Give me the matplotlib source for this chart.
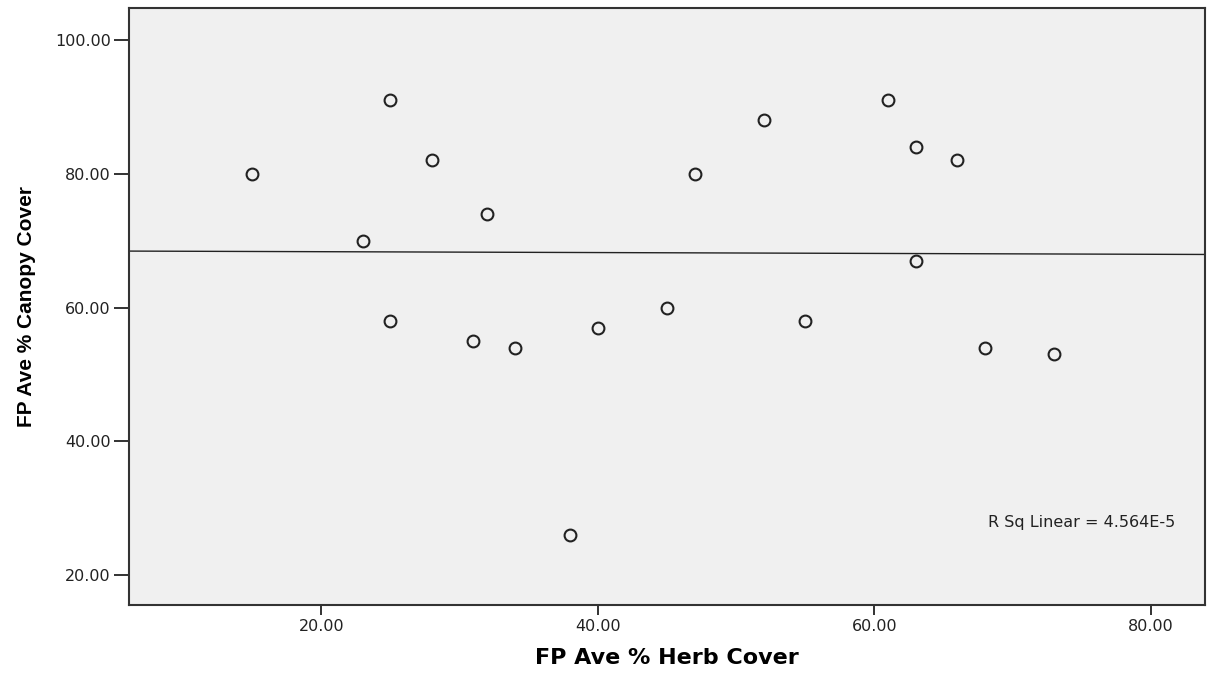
import numpy as np
import matplotlib
matplotlib.use("Agg")
import matplotlib.pyplot as plt

herb = [15, 23, 25, 25, 28, 31, 32, 34, 38, 40, 45, 47, 52, 55, 61, 63, 63, 66, 68, 73]
canopy = [80, 70, 91, 58, 82, 55, 74, 54, 26, 57, 60, 80, 88, 58, 91, 84, 67, 82, 54, 53]
xticks = [20, 40, 60, 80]
yticks = [20, 40, 60, 80, 100]

plt.rcParams['font.family'] = ['DejaVu Sans']

fig = plt.figure(figsize=(12.12, 6.73), dpi=100)
ax = fig.add_axes([0.1064, 0.101, 0.8878, 0.887])
ax.set_facecolor('#f0f0f0')

xmin, xmax = 6.1, 83.9
ax.set_xlim(xmin, xmax)
ax.set_ylim(15.5, 104.8)

slope, intercept = np.polyfit(herb, canopy, 1)
xs = np.array([xmin, xmax])
ax.plot(xs, slope * xs + intercept, color='#222222', lw=1.0)

ax.plot(herb, canopy, 'o', ms=8.5, mfc='none', mec='#222222', mew=1.5, ls='none')

ax.set_xticks(xticks)
ax.set_xticklabels([f"{v:.2f}" for v in xticks])
ax.set_yticks(yticks)
ax.set_yticklabels([f"{v:.2f}" for v in yticks])
ax.tick_params(axis='both', labelsize=11.5, colors='#222222', width=1.3)
ax.tick_params(axis='x', length=7, pad=3)
ax.tick_params(axis='y', length=11, pad=2)
for s in ax.spines.values():
    s.set_color('#333333')
    s.set_linewidth(1.5)

ax.set_xlabel('FP Ave % Herb Cover', fontsize=16, fontweight='bold', labelpad=10)
ax.set_ylabel('FP Ave % Canopy Cover', fontsize=15, fontweight='bold', labelpad=14,
              family='Liberation Sans')

ax.text(0.972, 0.139, 'R Sq Linear = 4.564E-5', transform=ax.transAxes,
        fontsize=11.5, ha='right', va='center', color='#222222')

fig.savefig('out.png', dpi=100)
